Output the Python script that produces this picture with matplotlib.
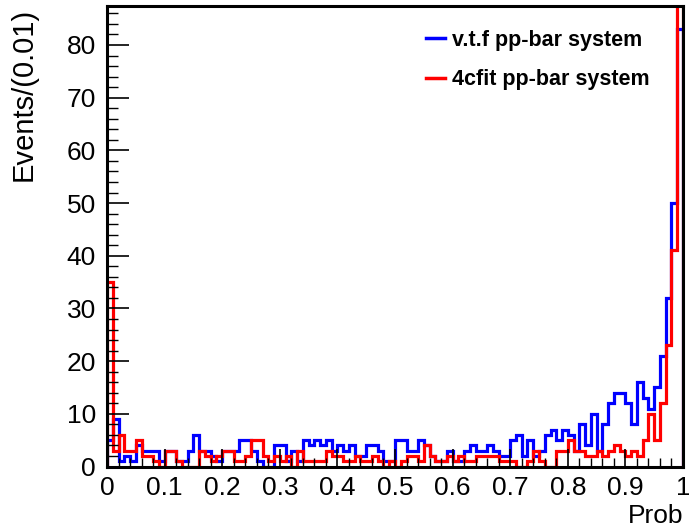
import numpy as np
import matplotlib
matplotlib.use("Agg")
import matplotlib.pyplot as plt
from matplotlib.lines import Line2D
from matplotlib.ticker import MultipleLocator

plt.rcParams['font.family'] = ['Liberation Sans', 'DejaVu Sans']

# 100 bins of width 0.01 on Prob in [0, 1]
bin_edges = np.linspace(0.0, 1.0, 101)

# v.t.f pp-bar system (blue)
vtf_counts = [
    5, 9, 1, 2, 1, 4, 3, 3, 3, 1,
    3, 3, 1, 1, 3, 6, 3, 3, 2, 1,
    3, 3, 3, 5, 5, 3, 1, 0, 0, 4,
    4, 1, 3, 1, 5, 4, 5, 4, 5, 3,
    4, 3, 4, 2, 2, 4, 4, 3, 1, 1,
    5, 5, 3, 3, 5, 4, 2, 1, 1, 3,
    1, 1, 3, 4, 3, 3, 4, 3, 2, 2,
    5, 6, 2, 5, 2, 3, 6, 7, 5, 7,
    6, 3, 8, 4, 10, 3, 8, 12, 14, 14,
    12, 8, 16, 13, 11, 15, 21, 32, 50, 83,
]

# 4cfit pp-bar system (red); the last bin runs off the top of the frame
cfit_counts = [
    35, 3, 6, 3, 3, 5, 2, 2, 1, 0,
    3, 3, 1, 0, 0, 0, 3, 2, 1, 2,
    3, 3, 1, 1, 2, 5, 5, 2, 1, 2,
    1, 2, 0, 3, 1, 1, 1, 1, 3, 2,
    2, 1, 1, 2, 1, 1, 2, 1, 0, 1,
    0, 1, 2, 2, 1, 4, 2, 1, 1, 2,
    1, 2, 1, 1, 2, 2, 2, 2, 1, 1,
    1, 0, 0, 1, 3, 1, 0, 0, 3, 3,
    5, 3, 3, 2, 2, 3, 2, 3, 4, 3,
    2, 3, 2, 5, 10, 5, 12, 23, 41, 120,
]

series_labels = ["v.t.f pp-bar system", "4cfit pp-bar system"]
series_colors = ["#0000ff", "#ff0000"]
x_tick_labels = ["0", "0.1", "0.2", "0.3", "0.4", "0.5", "0.6", "0.7", "0.8", "0.9", "1"]

fig = plt.figure(figsize=(6.89, 5.30), dpi=100)
ax = fig.add_axes([0.1553, 0.1198, 0.836, 0.8689])

ax.stairs(vtf_counts, bin_edges, baseline=0, color=series_colors[0], linewidth=2.3)
ax.stairs(cfit_counts, bin_edges, baseline=0, color=series_colors[1], linewidth=2.3)

ax.set_xlim(0, 1)
ax.set_ylim(0, max(vtf_counts) * 1.053)

# ROOT-like axes: ticks inside, only on left and bottom
ax.set_xticks(np.linspace(0, 1, 11))
ax.set_xticklabels(x_tick_labels)
ax.xaxis.set_minor_locator(MultipleLocator(0.02))
ax.yaxis.set_major_locator(MultipleLocator(10))
ax.yaxis.set_minor_locator(MultipleLocator(2))
ax.tick_params(axis='both', which='both', direction='in', top=False, right=False,
               colors='black', labelsize=19)
ax.tick_params(axis='x', which='major', length=13, width=1.2, pad=7)
ax.tick_params(axis='x', which='minor', length=6.5, width=1.0)
ax.tick_params(axis='y', which='major', length=16, width=1.2, pad=8)
ax.tick_params(axis='y', which='minor', length=8, width=1.0)

for side in ax.spines.values():
    side.set_linewidth(2.2)

ax.set_xlabel("Prob", fontsize=19, loc='right', labelpad=3)
ax.set_ylabel("Events/(0.01)", fontsize=21, loc='top')
ax.yaxis.set_label_coords(-0.12, 0.995)

handles = [Line2D([], [], color=c, linewidth=2.5) for c in series_colors]
ax.legend(handles, series_labels, loc='upper left', bbox_to_anchor=(0.52, 0.99),
          frameon=False, handlelength=0.9, handletextpad=0.3, labelspacing=0.85,
          prop={'weight': 'bold', 'size': 15.5})

fig.savefig("out.png", dpi=100)
